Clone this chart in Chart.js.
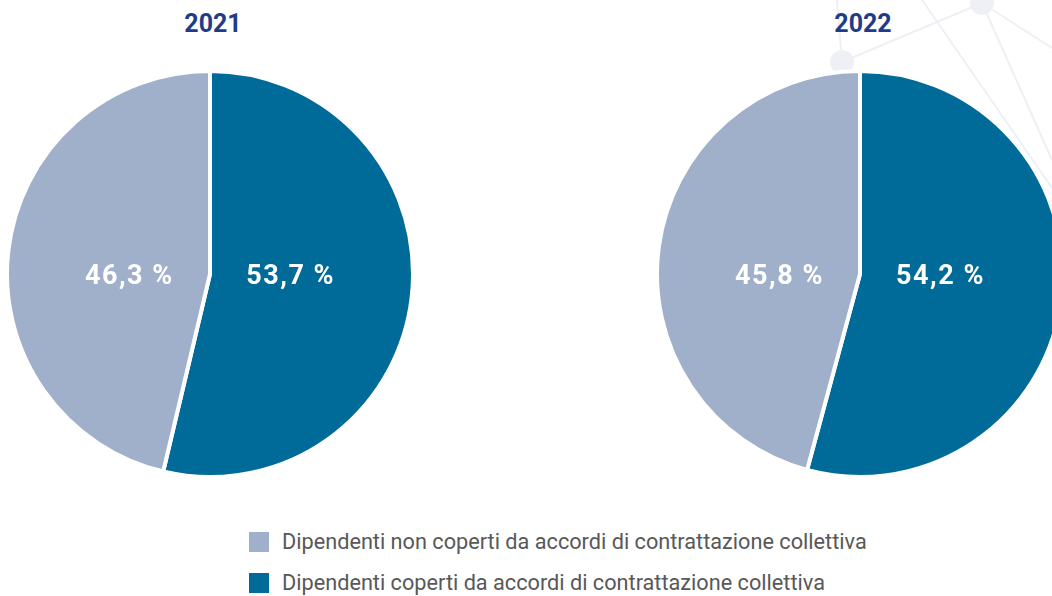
<!DOCTYPE html>
<html>
<head>
<meta charset="utf-8">
<script src="https://cdn.jsdelivr.net/npm/chart.js@4.4.1/dist/chart.umd.min.js"></script>
<style>
  html, body { margin: 0; padding: 0; background: #fff; }
  body { width: 1052px; height: 596px; position: relative; overflow: hidden; font-family: Roboto, sans-serif; }
  .deco { position: absolute; left: 0; top: 0; }
  .title { position: absolute; top: 8px; width: 120px; text-align: center; font-weight: 700; font-size: 25px; color: #1f3c88; line-height: 32px; }
  .pie { position: absolute; top: 69px; width: 410px; height: 410px; }
  .legend { position: absolute; left: 249px; top: 529px; }
  .legend div { height: 41px; display: flex; align-items: flex-start; font-size: 21.7px; color: #585858; }
  .legend span.box { display: inline-block; width: 20px; height: 20px; margin-right: 13px; margin-top: 3px; }
</style>
</head>
<body>
<svg class="deco" width="1052" height="596">
  <g stroke="#eef0f5" stroke-width="2" fill="none">
    <line x1="842" y1="62" x2="982" y2="3"/>
    <line x1="842" y1="62" x2="837" y2="0"/>
    <line x1="982" y1="3" x2="1052" y2="48"/>
    <line x1="982" y1="3" x2="1052" y2="160"/>
    <line x1="922" y1="0" x2="1052" y2="188"/>
  </g>
  <circle cx="842" cy="62" r="12" fill="#eef0f5"/>
  <circle cx="982" cy="3" r="12" fill="#eef0f5"/>
</svg>

<div class="title" style="left:153px">2021</div>
<div class="title" style="left:803px">2022</div>
<div class="pie" style="left:5px"><canvas id="pie2021"></canvas></div>
<div class="pie" style="left:655px"><canvas id="pie2022"></canvas></div>

<div class="legend" id="legend"></div>

<script>
const years = ['2021', '2022'];
const categories = [
  'Dipendenti coperti da accordi di contrattazione collettiva',
  'Dipendenti non coperti da accordi di contrattazione collettiva'
];
const covered = [53.7, 54.2];
const notCovered = [46.3, 45.8];
const colors = ['#006a98', '#a1b0ca'];

// white percentage labels, placed left/right of the centre line
const pctLabels = {
  id: 'pctLabels',
  afterDatasetsDraw(chart) {
    const ctx = chart.ctx;
    const meta = chart.getDatasetMeta(0);
    const values = chart.data.datasets[0].data;
    ctx.save();
    ctx.fillStyle = '#ffffff';
    ctx.font = 'bold 27px Roboto';
    ctx.letterSpacing = '1.5px';
    ctx.textAlign = 'center';
    ctx.textBaseline = 'middle';
    meta.data.forEach(function(arc, i) {
      const mid = (arc.startAngle + arc.endAngle) / 2;
      const x = arc.x + Math.cos(mid) * arc.outerRadius * 0.4;
      const txt = values[i].toFixed(1).replace('.', ',') + ' %';
      ctx.fillText(txt, x, arc.y + 3);
    });
    ctx.restore();
  }
};

years.forEach(function(year, k) {
  new Chart(document.getElementById('pie' + year), {
    type: 'pie',
    data: {
      labels: categories,
      datasets: [{
        data: [covered[k], notCovered[k]],
        backgroundColor: colors,
        borderColor: '#ffffff',
        borderWidth: 4
      }]
    },
    options: {
      responsive: true,
      maintainAspectRatio: false,
      animation: false,
      layout: { padding: 0 },
      plugins: {
        legend: { display: false },
        tooltip: { enabled: false }
      }
    },
    plugins: [pctLabels]
  });
});

// legend: light (not covered) first
const legend = document.getElementById('legend');
[1, 0].forEach(function(i) {
  const row = document.createElement('div');
  row.innerHTML = '<span class="box" style="background:' + colors[i] + '"></span>' + categories[i];
  legend.appendChild(row);
});
</script>
</body>
</html>
